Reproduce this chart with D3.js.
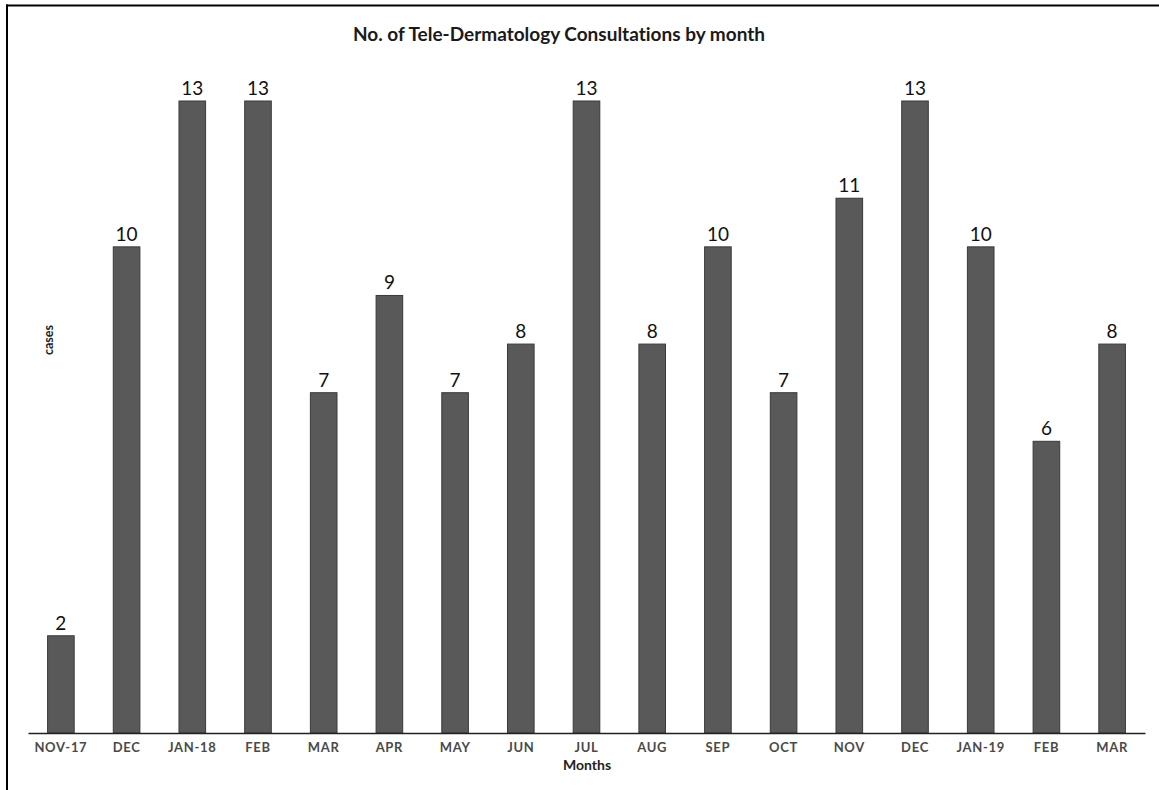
<!DOCTYPE html>
<html>
<head>
<meta charset="utf-8">
<script src="https://cdn.jsdelivr.net/npm/d3@7"></script>
<style>
  html, body { margin: 0; padding: 0; background: #fff; }
  svg { display: block; }
  text { font-variant-ligatures: none; }
</style>
</head>
<body>
<svg id="chart" width="1159" height="790"></svg>
<script>
// Monthly tele-dermatology consultation counts, Nov 2017 – Mar 2019
const months = ["NOV-17", "DEC", "JAN-18", "FEB", "MAR", "APR", "MAY", "JUN", "JUL",
                "AUG", "SEP", "OCT", "NOV", "DEC", "JAN-19", "FEB", "MAR"];
const cases = [2, 10, 13, 13, 7, 9, 7, 8, 13, 8, 10, 7, 11, 13, 10, 6, 8];
const titleText = "No. of Tele-Dermatology Consultations by month";
const xTitle = "Months";
const yTitle = "cases";

const W = 1159, H = 790;
const svg = d3.select("#chart");
const font = "Lato, 'Open Sans', sans-serif";

// frame lines (top and left)
svg.append("line").attr("x1", 6).attr("x2", W).attr("y1", 5.5).attr("y2", 5.5)
  .attr("stroke", "#000").attr("stroke-width", 2);
svg.append("line").attr("x1", 7).attr("x2", 7).attr("y1", 4.5).attr("y2", H)
  .attr("stroke", "#000").attr("stroke-width", 2);

const plot = { left: 28, right: 1145, top: 101, bottom: 733 };

const x = d3.scaleBand()
  .domain(d3.range(months.length))
  .range([plot.left, plot.right])
  .paddingInner(0.595)
  .paddingOuter(0.298);

const y = d3.scaleLinear()
  .domain([0, 13])
  .range([plot.bottom, plot.top]);

// bars
svg.append("g").selectAll("rect")
  .data(cases)
  .join("rect")
  .attr("x", (d, i) => x(i))
  .attr("y", d => y(d))
  .attr("width", x.bandwidth())
  .attr("height", d => y(0) - y(d))
  .attr("fill", "#595959")
  .attr("stroke", "#3a3a3a")
  .attr("stroke-width", 1);

// value labels
svg.append("g").selectAll("text")
  .data(cases)
  .join("text")
  .attr("x", (d, i) => x(i) + x.bandwidth() / 2)
  .attr("y", d => y(d) - 6)
  .attr("text-anchor", "middle")
  .attr("font-family", font)
  .attr("font-size", 19)
  .attr("fill", "#111")
  .text(d => d);

// x axis
const xAxis = d3.axisBottom(x)
  .tickFormat(i => months[i])
  .tickSize(0)
  .tickPadding(10);

const gx = svg.append("g")
  .attr("transform", `translate(0,${plot.bottom})`)
  .call(xAxis);
gx.select(".domain").attr("stroke", "#222").attr("stroke-width", 1.6);
gx.selectAll("text")
  .attr("font-family", font)
  .attr("font-size", 13)
  .attr("font-weight", "bold")
  .attr("letter-spacing", 0.7)
  .attr("fill", "#4a4a4a");

// titles
svg.append("text")
  .attr("x", 559).attr("y", 41)
  .attr("text-anchor", "middle")
  .attr("font-family", font)
  .attr("font-size", 19)
  .attr("font-weight", "bold")
  .attr("fill", "#1a1a1a")
  .text(titleText);

svg.append("text")
  .attr("x", 587).attr("y", 770)
  .attr("text-anchor", "middle")
  .attr("font-family", font)
  .attr("font-size", 14)
  .attr("font-weight", "bold")
  .attr("fill", "#222")
  .text(xTitle);

svg.append("text")
  .attr("transform", "translate(53,340) rotate(-90)")
  .attr("text-anchor", "middle")
  .attr("font-family", font)
  .attr("font-size", 12.5)
  .attr("font-weight", "bold")
  .attr("fill", "#222")
  .text(yTitle);
</script>
</body>
</html>
